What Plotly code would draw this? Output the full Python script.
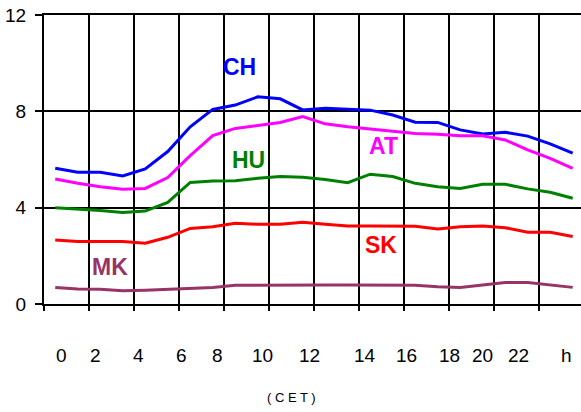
import plotly.graph_objects as go

hours = list(range(24))
ch = [5.64, 5.47, 5.47, 5.32, 5.61, 6.33, 7.36, 8.08, 8.26, 8.60, 8.52, 8.06,
      8.13, 8.08, 8.05, 7.85, 7.55, 7.54, 7.23, 7.06, 7.13, 6.97, 6.65, 6.26]
at = [5.19, 5.01, 4.87, 4.76, 4.80, 5.25, 6.16, 6.99, 7.29, 7.40, 7.54, 7.78,
      7.48, 7.36, 7.27, 7.18, 7.08, 7.05, 6.99, 6.99, 6.81, 6.40, 6.05, 5.63]
hu = [4.00, 3.95, 3.88, 3.80, 3.86, 4.22, 5.05, 5.11, 5.12, 5.22, 5.29, 5.26,
      5.17, 5.04, 5.39, 5.29, 5.01, 4.87, 4.80, 4.97, 4.97, 4.78, 4.64, 4.39]
sk = [2.66, 2.59, 2.59, 2.59, 2.52, 2.77, 3.14, 3.21, 3.35, 3.31, 3.31, 3.39,
      3.31, 3.24, 3.24, 3.24, 3.23, 3.11, 3.21, 3.24, 3.17, 2.98, 2.98, 2.80]
mk = [0.69, 0.62, 0.61, 0.55, 0.57, 0.61, 0.62, 0.69, 0.78, 0.79, 0.79, 0.79,
      0.79, 0.79, 0.79, 0.79, 0.78, 0.72, 0.69, 0.79, 0.89, 0.89, 0.79, 0.69]

series_names = ["CH", "AT", "HU", "SK", "MK"]
series_values = [ch, at, hu, sk, mk]
series_colors = ["#0000FF", "#FF00FF", "#008000", "#FF0000", "#993366"]
label_x = [8.21, 14.57, 8.61, 14.46, 2.43]
label_y = [9.84, 6.56, 5.98, 2.45, 1.54]

x_tick_text = ["0", "2", "4", "6", "8", "10", "12", "14", "16", "18", "20", "22", "h"]
x_tick_pos = [0.26, 1.81, 3.72, 5.59, 7.23, 9.23, 11.28, 13.77, 15.63, 17.54, 19.01, 20.57, 22.74]
y_ticks = [0, 4, 8, 12]
x_title = "( C E T )"

FONT = "Arial, Liberation Sans, sans-serif"

fig = go.Figure()
for name, vals, col in zip(series_names, series_values, series_colors):
    fig.add_trace(go.Scatter(x=hours, y=vals, mode="lines", name=name,
                             line=dict(color=col, width=3), showlegend=False,
                             cliponaxis=False))

annotations = []
for name, lx, ly, col in zip(series_names, label_x, label_y, series_colors):
    annotations.append(dict(x=lx, y=ly, xref="x", yref="y", text=f"<b>{name}</b>",
                            showarrow=False, font=dict(family=FONT, size=23, color=col),
                            xanchor="center", yanchor="middle"))
for t, p in zip(x_tick_text, x_tick_pos):
    annotations.append(dict(x=p, y=-0.1765, xref="x", yref="paper", text=t,
                            showarrow=False, font=dict(family=FONT, size=19, color="black"),
                            xanchor="center", yanchor="middle"))
annotations.append(dict(x=10.5, y=-0.322, xref="x", yref="paper", text=x_title,
                        showarrow=False, font=dict(family=FONT, size=13, color="black"),
                        xanchor="center", yanchor="middle"))

fig.update_layout(
    width=581, height=412,
    margin=dict(l=44, r=0, t=15, b=108, autoexpand=False),
    paper_bgcolor="white", plot_bgcolor="white",
    annotations=annotations,
    xaxis=dict(range=[-0.5, 23.37], tick0=-0.5, dtick=2, showgrid=True,
               gridcolor="black", gridwidth=2, zeroline=False,
               showline=True, mirror=True, linecolor="black", linewidth=2,
               ticks="outside", ticklen=5, tickwidth=2, tickcolor="black",
               showticklabels=False, automargin=False),
    yaxis=dict(range=[0, 12], tickvals=y_ticks, showgrid=True,
               gridcolor="black", gridwidth=2, zeroline=False,
               showline=True, linecolor="black", linewidth=2,
               ticks="outside", ticklen=7, tickwidth=2, tickcolor="black",
               tickfont=dict(family=FONT, size=19, color="black"),
               ticklabelstandoff=5, automargin=False),
)

# remove the default 8px page margin so the figure fills the 581x412 window
fig.write_html("out.html", config={"displayModeBar": False},
               post_script="document.body.style.margin='0';")
